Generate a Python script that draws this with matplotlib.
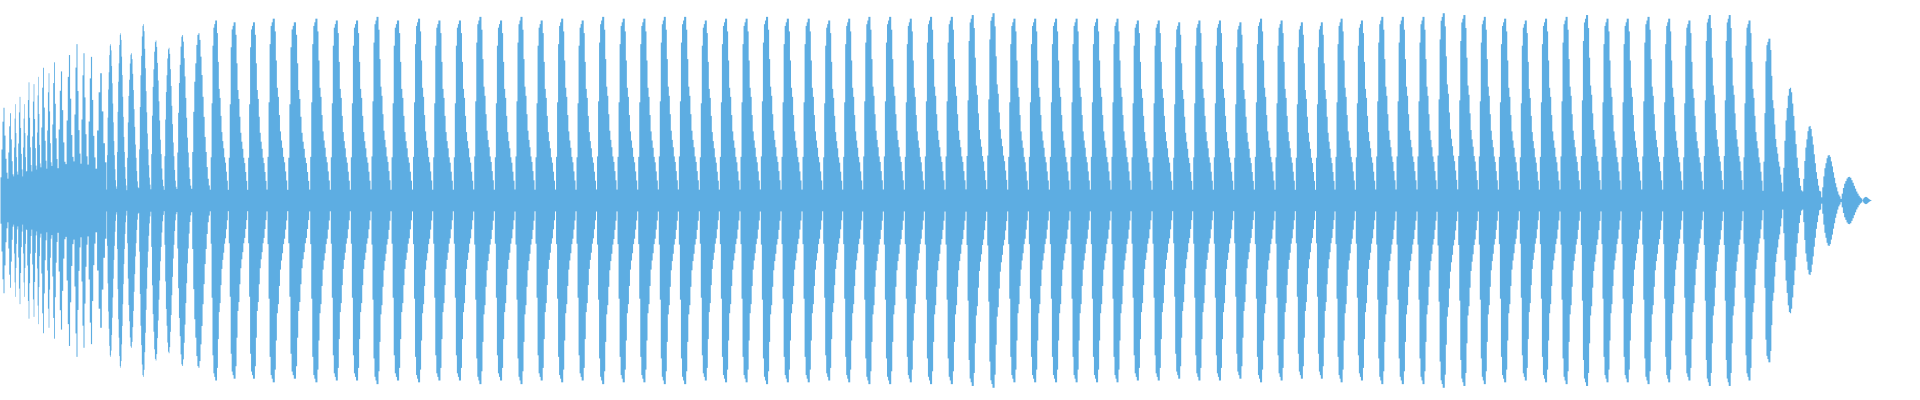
import numpy as np
import matplotlib
matplotlib.use("Agg")
import matplotlib.pyplot as plt

# waveform lobes: onset time (ms) and peak level
head_onsets = [0, 7, 13, 17, 22, 26, 31, 36, 40, 46, 51, 57, 65, 73, 80, 87, 95]
head_peaks = [0.51, 0.48, 0.53, 0.57, 0.53, 0.65, 0.64, 0.68, 0.73, 0.70, 0.76,
              0.71, 0.80, 0.86, 0.81, 0.79, 0.70]

early_onsets = [106, 116, 126, 138, 150, 163.3, 176, 190.7]
early_peaks = [0.86, 0.92, 0.81, 0.97, 0.88, 0.84, 0.91, 0.92]

body_onsets = [209.3, 227.3, 246.7, 266, 286.7, 308.7, 329.3, 349.3, 370, 390,
               411.5, 431.7, 452.3, 472.7, 493.3, 514, 534, 554.5, 575, 595.5,
               616, 636.7, 657.3, 677.3, 698.3, 718.3, 739, 759.3, 780, 801,
               821.7, 841.7, 861.7, 882.3, 903.3, 923.3, 944, 965, 985.7, 1006.7,
               1027.3, 1048.3, 1069, 1089.3, 1110, 1130, 1151, 1171.7, 1191.7,
               1212.3, 1232.7, 1253.3, 1274, 1294.3, 1314.5, 1334, 1354.3, 1374.7,
               1395, 1416, 1436, 1456.7, 1477.3, 1497.3, 1518.3, 1538.3, 1559,
               1579.3, 1600, 1620, 1640.7, 1661.7, 1681.7, 1702.3, 1722.3, 1742,
               1762]
body_peaks = [0.99, 0.98, 0.98, 1.00, 0.98, 1.00, 0.99, 0.99, 1.01, 0.99,
              1.00, 0.99, 0.99, 1.01, 0.99, 1.01, 0.99, 1.00, 0.99, 1.01,
              1.00, 1.00, 1.01, 1.01, 0.99, 1.00, 1.00, 1.01, 1.00, 1.00,
              0.99, 1.00, 1.01, 1.01, 1.00, 1.01, 1.01, 1.02, 1.03, 1.00,
              1.00, 1.00, 1.00, 1.00, 1.00, 0.99, 0.99, 0.98, 0.99,
              0.99, 0.98, 1.00, 0.99, 0.98, 0.98, 1.00, 0.99, 1.01,
              1.01, 1.01, 1.03, 1.02, 1.01, 1.00, 0.99, 1.00, 1.01,
              1.02, 1.00, 1.00, 1.01, 1.00, 0.99, 1.02, 1.02, 0.99,
              0.89]

tail_onsets = [1781.7, 1801.7, 1820.7, 1840, 1861.7]
tail_peaks = [0.62, 0.41, 0.25, 0.13, 0.02]
end_time = 1871

# one lobe over its cycle (fraction of peak)
head_shape = [0.25, 0.55, 0.85, 1.0, 0.7, 0.45, 0.3, 0.25]
saw_shape = [0.06, 0.24, 0.54, 0.86, 0.96, 0.98, 1.0, 1.0, 0.93, 0.77, 0.62,
             0.57, 0.47, 0.38, 0.33, 0.29, 0.24, 0.21, 0.16, 0.11, 0.07]
diamond_shape = [0.07, 0.29, 0.53, 0.71, 0.82, 0.93, 0.99, 1.0, 0.96, 0.86,
                 0.75, 0.62, 0.5, 0.38, 0.29, 0.2, 0.13, 0.09, 0.06]
floor_level = 0.05

onsets = head_onsets + early_onsets + body_onsets + tail_onsets + [end_time]
peaks = head_peaks + early_peaks + body_peaks + tail_peaks
shapes = ([head_shape] * len(head_peaks) + [diamond_shape] * len(early_peaks)
          + [saw_shape] * len(body_peaks) + [diamond_shape] * len(tail_peaks))

xs, ys = [], []
for i in range(len(peaks)):
    shape = np.array(shapes[i])
    phase = np.linspace(0, 1, len(shape))
    x = onsets[i] + phase * (onsets[i + 1] - onsets[i])
    xs.append(x[:-1])
    ys.append(peaks[i] * shape[:-1])
xs.append([end_time])
ys.append([0.0])
t = np.concatenate(xs)
env = np.concatenate(ys)
env = np.where(t < tail_onsets[2], np.maximum(env, floor_level), env)

fig = plt.figure(figsize=(19.2, 4), dpi=100)
ax = fig.add_axes([0, 0, 1, 1])
ax.fill_between(t, -env, env, step='post', color='#5DADE2', linewidth=0)
ax.set_xlim(0, 1920)
ax.set_ylim(-1.1, 1.1)
ax.axis('off')
fig.savefig('out.png', dpi=100, facecolor='white')
